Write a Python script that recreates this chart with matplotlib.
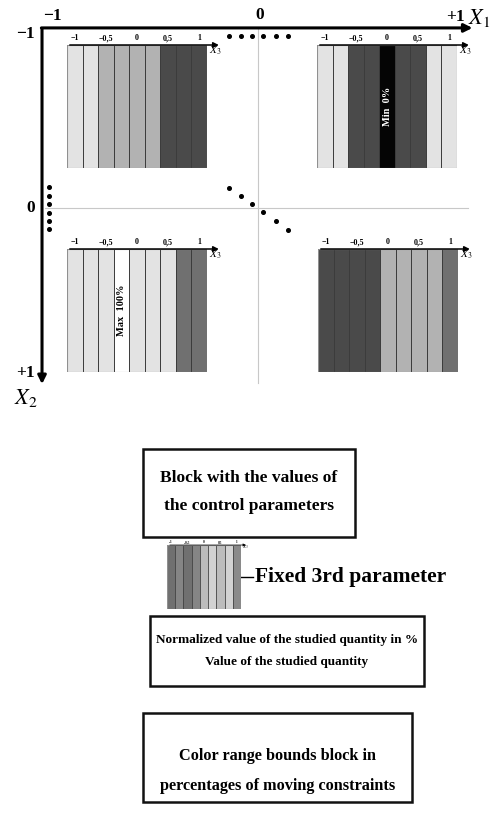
import numpy as np
import matplotlib.pyplot as plt
from matplotlib.patches import Rectangle

plt.rcParams['mathtext.fontset'] = 'stix'

# ---------------- data ----------------
x3 = np.array([-1, -0.75, -0.5, -0.25, 0, 0.25, 0.5, 0.75, 1])
x3_ticks = [-1, -0.5, 0, 0.5, 1]
x3_labels = ['\u22121', '\u22120,5', '0', '0,5', '1']

L, M, D, K, W, G = '#e3e3e3', '#b2b2b2', '#4a4a4a', '#050505', '#ffffff', '#707070'
tl_colors = [L, L, M, M, M, M, D, D, D]
tr_colors = [L, L, D, D, K, D, D, L, L]
bl_colors = [L, L, L, W, L, L, L, G, G]
br_colors = [D, D, D, D, M, M, M, M, G]
legend_colors = [G, '#858585', G, '#858585', '#bcbcbc', '#d2d2d2', '#bcbcbc', '#d2d2d2', '#8a8a8a']

# points of the design (X1, X2)
dot_offsets = [-0.136, -0.082, -0.028, 0.024, 0.085, 0.14]
top_x1 = dot_offsets
top_x2 = [-1.0] * 6
left_x1 = [-0.98] * 6
left_x2 = [-0.122, -0.07, -0.023, 0.03, 0.076, 0.122]
diag_x1 = dot_offsets
diag_x2 = [-0.116, -0.07, -0.023, 0.023, 0.076, 0.128]

box_texts = ['Block with the values of\nthe control parameters',
             'Normalized value of the studied quantity in %\nValue of the studied quantity',
             'Color range bounds block in\npercentages of moving constraints']

FW, FH = 494, 827
serif = 'Liberation Serif'


def px_rect(x0, y0, x1, y1):
    return [x0 / FW, 1 - y1 / FH, (x1 - x0) / FW, (y1 - y0) / FH]


fig = plt.figure(figsize=(4.94, 8.27), dpi=100)

# ---------------- main diagram (X1, X2) ----------------
sx, cx = 213.0, 258.0
sy, cy = 172.0, 208.0
ax = fig.add_axes(px_rect(0, 0, FW, 420))
ax.set_xlim(-cx / sx, (FW - cx) / sx)
ax.set_ylim((420 - cy) / sy, -cy / sy)
ax.axis('off')

# thin grey centre lines
ax.plot([-1.0, 0.986], [0, 0], color='#c8c8c8', lw=0.8, zorder=1)
ax.plot([0, 0], [-1.047, 1.02], color='#c8c8c8', lw=0.8, zorder=1)

# thick main axes with arrows
ax.annotate('', xy=(1.02, -1.047), xytext=(-1.03, -1.047),
            arrowprops=dict(arrowstyle='-|>', lw=2.2, color='black', mutation_scale=12),
            annotation_clip=False)
ax.annotate('', xy=(-1.014, 1.04), xytext=(-1.014, -1.06),
            arrowprops=dict(arrowstyle='-|>', lw=2.2, color='black', mutation_scale=12),
            annotation_clip=False)

tk = dict(family=serif, fontweight='bold', fontsize=12.5, ha='center', va='center')
ax.text(-0.967, -1.115, '\u22121', **tk)
ax.text(0.01, -1.12, '0', **tk)
ax.text(0.925, -1.11, '+1', **tk)
ax.text(1.04, -1.105, '$X_1$', fontsize=16, ha='center', va='center')
ax.text(-1.09, -1.012, '\u22121', **tk)
ax.text(-1.065, 0.0, '0', **tk)
ax.text(-1.09, 0.957, '+1', **tk)
ax.text(-1.09, 1.107, '$X_2$', fontsize=16, ha='center', va='center')

for xs, ys in [(top_x1, top_x2), (left_x1, left_x2), (diag_x1, diag_x2)]:
    ax.plot(xs, ys, 'o', color='black', ms=2.6, zorder=3)


def stripe_block(rect, colors, note=None, note_x=0, note_color='white', small=False):
    b = fig.add_axes(px_rect(*rect))
    b.bar(x3, np.ones(len(x3)), width=0.25, color=colors, edgecolor='#3c3c3c',
          lw=0.5 if small else 0.7)
    b.set_xlim(-1.125, 1.125)
    b.set_ylim(0, 1)
    for s in b.spines.values():
        s.set_visible(False)
    b.add_patch(Rectangle((-1.125, 0), 2.25, 1, fill=False, ec='#909090', lw=0.8))
    b.set_yticks([])
    b.xaxis.tick_top()
    b.set_xticks(x3_ticks)
    b.set_xticklabels(x3_labels, family=serif, fontweight='bold',
                      fontsize=2.5 if small else 5.8)
    b.tick_params(axis='x', length=0, pad=0.5 if small else 2)
    b.annotate('', xy=(1.36, 1), xytext=(-1.125, 1), xycoords=b.get_xaxis_transform(),
               arrowprops=dict(arrowstyle='-|>', lw=0.5 if small else 1.1, color='black',
                               mutation_scale=4 if small else 8),
               annotation_clip=False)
    b.text(1.26, 0.95 if not small else 0.97, '$X_3$',
           fontsize=3.5 if small else 8, ha='center', va='center', clip_on=False)
    if note:
        b.text(note_x, 0.5, note, rotation=90, ha='center', va='center', color=note_color,
               family=serif, fontweight='bold', fontsize=7.5)
    return b


stripe_block((67, 45, 207, 168), tl_colors)
stripe_block((317, 45, 457, 168), tr_colors, note='Min  0%', note_x=0, note_color='white')
stripe_block((67, 249, 207, 372), bl_colors, note='Max  100%', note_x=-0.25, note_color='black')
stripe_block((318, 249, 458, 372), br_colors)

# ---------------- legend part ----------------
lg = fig.add_axes(px_rect(0, 420, FW, FH))
lg.set_xlim(0, FW)
lg.set_ylim(FH, 420)
lg.axis('off')

boxes = [(143, 449, 355, 537), (150, 616, 424, 686), (143, 713, 412, 802)]
text_y = [492, 651, 771]
sizes = [12.5, 9.5, 11.7]
spacing = [2.05, 2.1, 2.15]
for (x0, y0, x1, y1), ty, txt, fs, ls in zip(boxes, text_y, box_texts, sizes, spacing):
    lg.add_patch(Rectangle((x0, y0), x1 - x0, y1 - y0, fill=False, ec='#111111', lw=1.8))
    lg.text((x0 + x1) / 2, ty, txt, ha='center', va='center', family=serif,
            fontweight='bold', fontsize=fs, linespacing=ls)

stripe_block((167, 545, 241, 609), legend_colors, small=True)
lg.plot([236, 253], [577, 577], color='black', lw=1.0)
lg.text(255, 577, 'Fixed 3rd parameter', ha='left', va='center', family=serif,
        fontweight='bold', fontsize=15.5)

fig.savefig('out.png', dpi=100)
